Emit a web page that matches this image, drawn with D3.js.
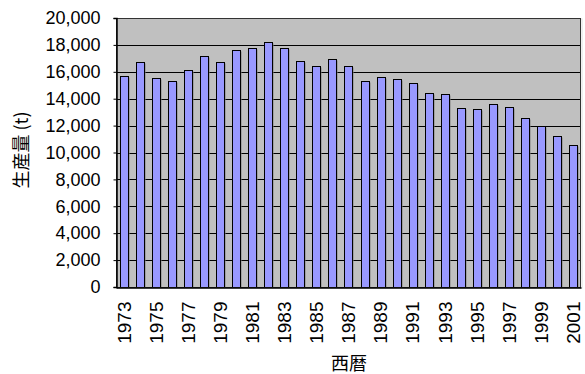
<!DOCTYPE html>
<html lang="ja">
<head>
    <meta charset="UTF-8">
    <title>生産量</title>
    <script src="https://cdn.jsdelivr.net/npm/d3@7"></script>
    <style>
        body { margin: 0; background: #fff; }
    </style>
</head>
<body>
<script type="text/javascript">
    var years = d3.range(1973, 2002);
    var production = [15700, 16700, 15550, 15350, 16100, 17150, 16700, 17650, 17800, 18250,
        17800, 16800, 16400, 16950, 16400, 15350, 15600, 15450, 15150, 14450,
        14350, 13300, 13250, 13600, 13400, 12550, 12000, 11200, 10550];
    var yTicks = [0, 2000, 4000, 6000, 8000, 10000, 12000, 14000, 16000, 18000, 20000];

    var plotL = 116, plotR = 581, plotT = 18, plotB = 287;
    var latin = '"Liberation Sans", Arial, sans-serif';
    var cjk = '"Noto Sans CJK JP", sans-serif';

    var svg = d3.select('body').append('svg')
            .attr('width', 585)
            .attr('height', 374);

    var x = d3.scaleBand()
            .domain(years)
            .range([plotL, plotR])
            .paddingInner(0.5)
            .paddingOuter(0.25);
    var y = d3.scaleLinear()
            .domain([0, 20000])
            .range([plotB, plotT]);

    // 背景
    svg.append('rect')
            .attr('x', plotL + 1).attr('y', plotT + 1)
            .attr('width', plotR - plotL).attr('height', plotB - plotT)
            .attr('fill', 'none').attr('stroke', '#e0e0e0');
    svg.append('rect')
            .attr('x', plotL).attr('y', plotT)
            .attr('width', plotR - plotL).attr('height', plotB - plotT)
            .attr('fill', '#c0c0c0');

    // グリッド線
    svg.selectAll('line.grid')
            .data(yTicks.slice(1, -1))
            .enter()
            .append('line')
            .attr('class', 'grid')
            .attr('x1', plotL).attr('x2', plotR)
            .attr('y1', function (d) { return Math.round(y(d)) + 0.5; })
            .attr('y2', function (d) { return Math.round(y(d)) + 0.5; })
            .attr('stroke', '#000')
            .attr('stroke-width', 1);

    // 影
    svg.selectAll('rect.shadow')
            .data(production)
            .enter()
            .append('rect')
            .attr('class', 'shadow')
            .attr('x', function (d, i) { return Math.round(x(years[i])) + 1.5; })
            .attr('y', function (d) { return Math.round(y(d)) + 1.5; })
            .attr('width', Math.round(x.bandwidth()))
            .attr('height', function (d) { return plotB - Math.round(y(d)) - 1; })
            .attr('fill', '#808080');

    // 棒
    svg.selectAll('rect.bar')
            .data(production)
            .enter()
            .append('rect')
            .attr('class', 'bar')
            .attr('x', function (d, i) { return Math.round(x(years[i])) + 0.5; })
            .attr('y', function (d) { return Math.round(y(d)) + 0.5; })
            .attr('width', Math.round(x.bandwidth()))
            .attr('height', function (d) { return plotB - Math.round(y(d)); })
            .attr('fill', '#9999ff')
            .attr('stroke', '#000')
            .attr('stroke-width', 1);

    // 枠
    svg.append('rect')
            .attr('x', plotL + 0.5).attr('y', plotT + 0.5)
            .attr('width', plotR - plotL - 1).attr('height', plotB - plotT)
            .attr('fill', 'none')
            .attr('stroke', '#333');

    // y軸
    var yAxis = svg.append('g')
            .attr('transform', 'translate(' + (plotL + 0.5) + ',0)')
            .call(d3.axisLeft(y).tickValues(yTicks).tickSize(3).tickPadding(13)
                    .tickFormat(d3.format(',')));
    yAxis.selectAll('text').attr('font-size', 18).attr('fill', '#000')
            .attr('font-family', latin);
    yAxis.selectAll('line').attr('stroke', '#000');
    yAxis.select('.domain').attr('stroke', '#000').attr('stroke-width', 1.5);

    // x軸
    var xAxis = svg.append('g')
            .attr('transform', 'translate(0,' + (plotB + 0.5) + ')')
            .call(d3.axisBottom(x).tickValues(years.filter(function (d, i) { return i % 2 === 0; }))
                    .tickSize(0).tickPadding(0));
    xAxis.select('.domain').attr('stroke', '#000').attr('stroke-width', 1.5);
    xAxis.selectAll('text')
            .attr('font-size', 19)
            .attr('fill', '#000')
            .attr('font-family', latin)
            .attr('text-anchor', 'end')
            .attr('x', 0).attr('y', 0)
            .attr('dy', '0.36em')
            .attr('transform', 'translate(0,14) rotate(-90)');

    // 軸タイトル
    svg.append('text')
            .attr('x', 349).attr('y', 370)
            .attr('text-anchor', 'middle')
            .attr('font-size', 18)
            .attr('font-family', cjk)
            .text('西暦');
    svg.append('text')
            .attr('transform', 'translate(22,150) rotate(-90)')
            .attr('text-anchor', 'middle')
            .attr('dy', '0.35em')
            .attr('font-size', 18)
            .attr('font-family', cjk)
            .text('生産量 (t)');
</script>
</body>
</html>
